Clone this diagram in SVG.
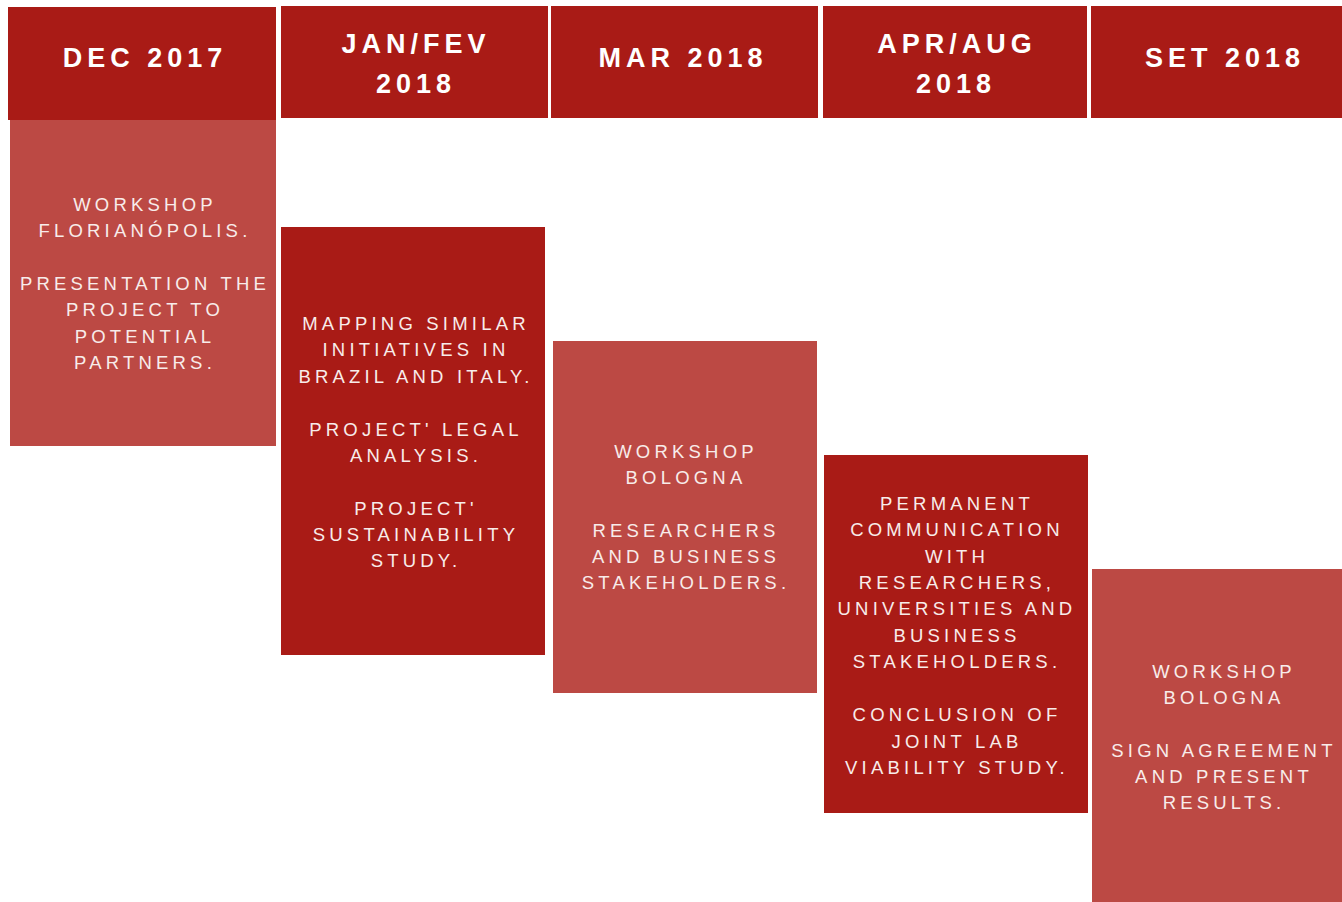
<svg xmlns="http://www.w3.org/2000/svg" width="1342" height="902" viewBox="0 0 1342 902">
<style>
.dark{fill:#a91b16}
.light{fill:#bc4944}
.hd{font-family:"Liberation Sans",Arial,sans-serif;font-weight:bold;font-size:27px;letter-spacing:5px;fill:#ffffff;text-anchor:middle}
.bd{font-family:"Liberation Sans",Arial,sans-serif;font-size:18.5px;letter-spacing:4.2px;fill:#f8ecea;text-anchor:middle}
</style>
<rect width="1342" height="902" fill="#ffffff"/>
<g id="headers">
<g id="h-dec"><rect class="dark" x="8" y="7" width="268" height="113"/><text class="hd" x="145" y="67">DEC 2017</text></g>
<g id="h-jan"><rect class="dark" x="281" y="6" width="267" height="112"/><text class="hd" x="416" y="53">JAN/FEV</text><text class="hd" x="416" y="93">2018</text></g>
<g id="h-mar"><rect class="dark" x="551" y="6" width="267" height="112"/><text class="hd" x="683" y="67">MAR 2018</text></g>
<g id="h-apr"><rect class="dark" x="823" y="6" width="264" height="112"/><text class="hd" x="957" y="53">APR/AUG</text><text class="hd" x="956" y="93">2018</text></g>
<g id="h-set"><rect class="dark" x="1091" y="6" width="251" height="112"/><text class="hd" x="1225" y="67">SET 2018</text></g>
</g>
<g id="b-dec"><rect class="light" x="10" y="120" width="266" height="326"/>
<text class="bd"><tspan x="145" y="210.5">WORKSHOP</tspan><tspan x="145" y="237">FLORIANÓPOLIS.</tspan><tspan x="145" y="290">PRESENTATION THE</tspan><tspan x="145" y="316">PROJECT TO</tspan><tspan x="145" y="342.5">POTENTIAL</tspan><tspan x="145" y="369">PARTNERS.</tspan></text></g>
<g id="b-jan"><rect class="dark" x="281" y="227" width="264" height="428"/>
<text class="bd"><tspan x="416" y="329.5">MAPPING SIMILAR</tspan><tspan x="416" y="356">INITIATIVES IN</tspan><tspan x="416" y="382.5">BRAZIL AND ITALY.</tspan><tspan x="416" y="435.5">PROJECT' LEGAL</tspan><tspan x="416" y="461.5">ANALYSIS.</tspan><tspan x="416" y="514.5">PROJECT'</tspan><tspan x="416" y="540.5">SUSTAINABILITY</tspan><tspan x="416" y="567">STUDY.</tspan></text></g>
<g id="b-mar"><rect class="light" x="553" y="341" width="264" height="352"/>
<text class="bd"><tspan x="686" y="457.5">WORKSHOP</tspan><tspan x="686" y="483.5">BOLOGNA</tspan><tspan x="686" y="536.5">RESEARCHERS</tspan><tspan x="686" y="562.5">AND BUSINESS</tspan><tspan x="686" y="589">STAKEHOLDERS.</tspan></text></g>
<g id="b-apr"><rect class="dark" x="824" y="455" width="264" height="358"/>
<text class="bd"><tspan x="957" y="509.5">PERMANENT</tspan><tspan x="957" y="536">COMMUNICATION</tspan><tspan x="957" y="562.5">WITH</tspan><tspan x="957" y="588.5">RESEARCHERS,</tspan><tspan x="957" y="615">UNIVERSITIES AND</tspan><tspan x="957" y="641.5">BUSINESS</tspan><tspan x="957" y="668">STAKEHOLDERS.</tspan><tspan x="957" y="721">CONCLUSION OF</tspan><tspan x="957" y="747.5">JOINT LAB</tspan><tspan x="957" y="773.5">VIABILITY STUDY.</tspan></text></g>
<g id="b-set"><rect class="light" x="1092" y="569" width="250" height="333"/>
<text class="bd"><tspan x="1224" y="677.5">WORKSHOP</tspan><tspan x="1224" y="703.5">BOLOGNA</tspan><tspan x="1224" y="756.5">SIGN AGREEMENT</tspan><tspan x="1224" y="782.5">AND PRESENT</tspan><tspan x="1224" y="809">RESULTS.</tspan></text></g>
<g id="connectors"/>
</svg>
